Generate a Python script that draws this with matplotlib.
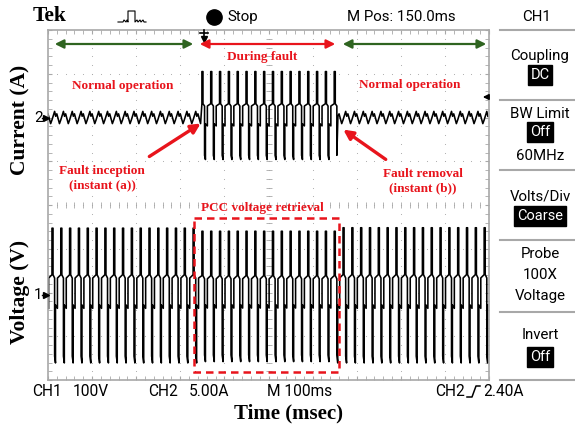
import numpy as np
import matplotlib.pyplot as plt

# scope settings
line_freq_hz = 50
segment_names = ['Normal operation', 'During fault', 'Normal operation']
segment_edges_ms = [0, 349, 656, 1000]

# trace references (divisions from bottom of screen)
ch1_ref_div = 1.95   # voltage, marker "1"
ch2_ref_div = 6.0    # current, marker "2"

# peak excursions per segment, in divisions about the reference
current_top_div = [0.14, 1.05, 0.14]
current_bot_div = [-0.14, -0.96, -0.14]
voltage_top_div = [1.52, 1.45, 1.53]
voltage_bot_div = [-1.56, -1.53, -1.56]

# one-cycle shapes of the sampled traces (phase, level)
pulse_phase = [0.00, 0.00, 0.12, 0.12, 0.30, 0.30, 0.40, 0.40, 0.62, 0.62, 1.00]
pulse_level = [0.30, 1.00, 1.00, 0.30, 0.25, -0.90, -1.00, -0.15, -0.20, 0.25, 0.30]
ripple_phase = [0.00, 0.30, 0.42, 0.55, 0.85, 1.00]
ripple_level = [-0.40, 1.00, 0.20, 0.60, -1.00, -0.40]

RED = '#e8141c'
GREEN = '#2f6420'
GRAY = '#a8a8a8'
SCOPE_FONT = ['Roboto', 'DejaVu Sans']
SERIF = ['Liberation Serif', 'DejaVu Serif']
FS = 10.8

period_ms = 1000 / line_freq_hz
cycle_starts = segment_edges_ms[1] + period_ms * np.arange(-19, 34)


def build_trace(ref, tops, bots, shapes):
    ts, ys = [], []
    for s in range(len(segment_names)):
        lo, hi = segment_edges_ms[s], segment_edges_ms[s + 1]
        ph, lv = np.array(shapes[s][0]), np.array(shapes[s][1])
        for t0 in cycle_starts:
            t = t0 + ph * period_ms
            y = ref + np.where(lv >= 0, lv * tops[s], -lv * bots[s])
            keep = (t >= lo) & (t < hi)
            ts.extend(t[keep])
            ys.extend(y[keep])
    return np.array(ts), np.array(ys)


fig = plt.figure(figsize=(5.75, 4.25), dpi=100)

# scope screen
ax = fig.add_axes([48 / 575, 45 / 425, 441 / 575, 350 / 425])
ax.set_xlim(0, 1000)
ax.set_ylim(0, 8)
for sp in ax.spines.values():
    sp.set_color(GRAY)
    sp.set_linewidth(1.2)
ax.set_xticks(np.arange(0, 1001, 100))
ax.set_yticks(np.arange(0, 9, 1))
ax.set_xticks(np.arange(0, 1001, 20), minor=True)
ax.set_yticks(np.arange(0, 8.01, 0.2), minor=True)
ax.tick_params(which='both', direction='in', length=3, color=GRAY,
               top=True, right=True, labelbottom=False, labelleft=False)

# dotted graticule
gx, gy = np.meshgrid(np.arange(100, 1000, 100), np.arange(0.2, 8, 0.2))
ax.scatter(gx.ravel(), gy.ravel(), s=0.6, color=GRAY, lw=0)
gx, gy = np.meshgrid(np.arange(20, 1000, 20), np.arange(1, 8, 1))
ax.scatter(gx.ravel(), gy.ravel(), s=0.6, color=GRAY, lw=0)
ax.plot(np.full(39, 500), np.arange(0.2, 8, 0.2), ls='none', marker='_', ms=4, color=GRAY, mew=0.6)
ax.plot(np.arange(20, 1000, 20), np.full(49, 4), ls='none', marker='|', ms=4, color=GRAY, mew=0.6)

shapes_i = [(ripple_phase, ripple_level), (pulse_phase, pulse_level), (ripple_phase, ripple_level)]
shapes_v = [(pulse_phase, pulse_level)] * 3
t_i, y_i = build_trace(ch2_ref_div, current_top_div, current_bot_div, shapes_i)
t_v, y_v = build_trace(ch1_ref_div, voltage_top_div, voltage_bot_div, shapes_v)
ax.plot(t_i, y_i, color='black', lw=1.15)
ax.plot(t_v, y_v, color='black', lw=1.15)

# overlay in pixel coordinates
ov = fig.add_axes([0, 0, 1, 1], facecolor='none')
ov.set_xlim(0, 575)
ov.set_ylim(425, 0)
ov.axis('off')

# header
ov.text(33, 16, 'Tek', family=SERIF, weight='bold', fontsize=15.5, va='center')
ov.plot([118, 123, 124, 126, 127, 128, 128, 135, 135, 137, 138, 140, 141, 143, 144, 146],
        [22, 22, 20, 22, 20, 22, 11, 11, 22, 20, 22, 20, 22, 20, 22, 22], color='black', lw=0.8)
ov.plot(214, 17, 'o', ms=11, color='black')
ov.text(227, 17, 'Stop', family=SCOPE_FONT, fontsize=FS, va='center')
ov.text(347, 17, 'M Pos: 150.0ms', family=SCOPE_FONT, fontsize=FS, va='center')
ov.text(537, 17, 'CH1', family=SCOPE_FONT, fontsize=FS, va='center', ha='center')

# trigger markers
ov.plot([204, 204], [30, 38], color='black', lw=1.2)
ov.plot([200, 208], [33, 33], color='black', lw=1.2)
ov.plot(204, 39, 'v', ms=5, color='black')
ov.annotate('', xy=(480, 97), xytext=(490, 97),
            arrowprops=dict(arrowstyle='-|>', color='black', lw=1.2, mutation_scale=8))
ov.text(34, 118, '2', family=SCOPE_FONT, fontsize=FS, va='center')
ov.plot([42, 46], [118, 118], color='black', lw=1)
ov.plot(46, 118, '>', ms=4, color='black')
ov.text(34, 295, '1', family=SCOPE_FONT, fontsize=FS, va='center')
ov.plot([42, 46], [295, 295], color='black', lw=1)
ov.plot(46, 295, '>', ms=4, color='black')

# operation spans
ov.annotate('', xy=(52, 44), xytext=(196, 44),
            arrowprops=dict(arrowstyle='<|-|>', color=GREEN, lw=1.6, mutation_scale=13))
ov.annotate('', xy=(197, 44), xytext=(338, 44),
            arrowprops=dict(arrowstyle='<|-|>', color=RED, lw=1.6, mutation_scale=13))
ov.annotate('', xy=(340, 44), xytext=(489, 44),
            arrowprops=dict(arrowstyle='<|-|>', color=GREEN, lw=1.6, mutation_scale=13))
ov.text(262, 57, segment_names[1], color=RED, family=SERIF, weight='bold', fontsize=9.5, ha='center', va='center')
ov.text(123, 86, segment_names[0], color=RED, family=SERIF, weight='bold', fontsize=9.5, ha='center', va='center')
ov.text(410, 85, segment_names[2], color=RED, family=SERIF, weight='bold', fontsize=9.5, ha='center', va='center')

ov.annotate('', xy=(203, 122), xytext=(147, 158),
            arrowprops=dict(arrowstyle='-|>', color=RED, lw=2.4, mutation_scale=14))
ov.text(102, 178, 'Fault inception\n(instant (a))', color=RED, family=SERIF, weight='bold',
        fontsize=9.5, ha='center', va='center', linespacing=1.3)
ov.annotate('', xy=(341, 128), xytext=(388, 161),
            arrowprops=dict(arrowstyle='-|>', color=RED, lw=2.4, mutation_scale=14))
ov.text(423, 181, 'Fault removal\n(instant (b))', color=RED, family=SERIF, weight='bold',
        fontsize=9.5, ha='center', va='center', linespacing=1.3)

ov.text(262, 208, 'PCC voltage retrieval', color=RED, family=SERIF, weight='bold',
        fontsize=9.5, ha='center', va='center')
ov.add_patch(plt.Rectangle((194, 218), 145, 154, fill=False, ec=RED, lw=1.8, ls=(0, (3, 2))))

# axis labels
ov.text(20, 120, 'Current (A)', family=SERIF, weight='bold', fontsize=15.5, rotation=90, ha='center', va='center')
ov.text(20, 292, 'Voltage (V)', family=SERIF, weight='bold', fontsize=15.5, rotation=90, ha='center', va='center')
ov.text(288, 413, 'Time (msec)', family=SERIF, weight='bold', fontsize=15, ha='center', va='center')

# footer readout
for x, s in [(32, 'CH1'), (73, '100V'), (148, 'CH2'), (189, '5.00A'), (267, 'M 100ms'),
             (435, 'CH2'), (483, '2.40A')]:
    ov.text(x, 392, s, family=SCOPE_FONT, fontsize=FS + 0.4, va='center')
ov.plot([467, 472, 476, 480], [397, 397, 386, 386], color='black', lw=1.1)

# side menu
for y in [30, 100, 170, 240, 312, 380]:
    ov.plot([500, 575], [y, y], color=GRAY, lw=1.5)
menu = [('Coupling', 56, False), ('DC', 75, True), ('BW Limit', 114, False), ('Off', 132, True),
        ('60MHz', 156, False), ('Volts/Div', 196, False), ('Coarse', 216, True), ('Probe', 254, False),
        ('100X', 275, False), ('Voltage', 296, False), ('Invert', 335, False), ('Off', 357, True)]
for s, y, inv in menu:
    if inv:
        ov.text(540, y, s, family=SCOPE_FONT, fontsize=FS - 0.3, color='white', ha='center', va='center',
                bbox=dict(boxstyle='square,pad=0.18', fc='black', ec='black'))
    else:
        ov.text(540, y, s, family=SCOPE_FONT, fontsize=FS, ha='center', va='center')

fig.savefig('out.png', dpi=100)
